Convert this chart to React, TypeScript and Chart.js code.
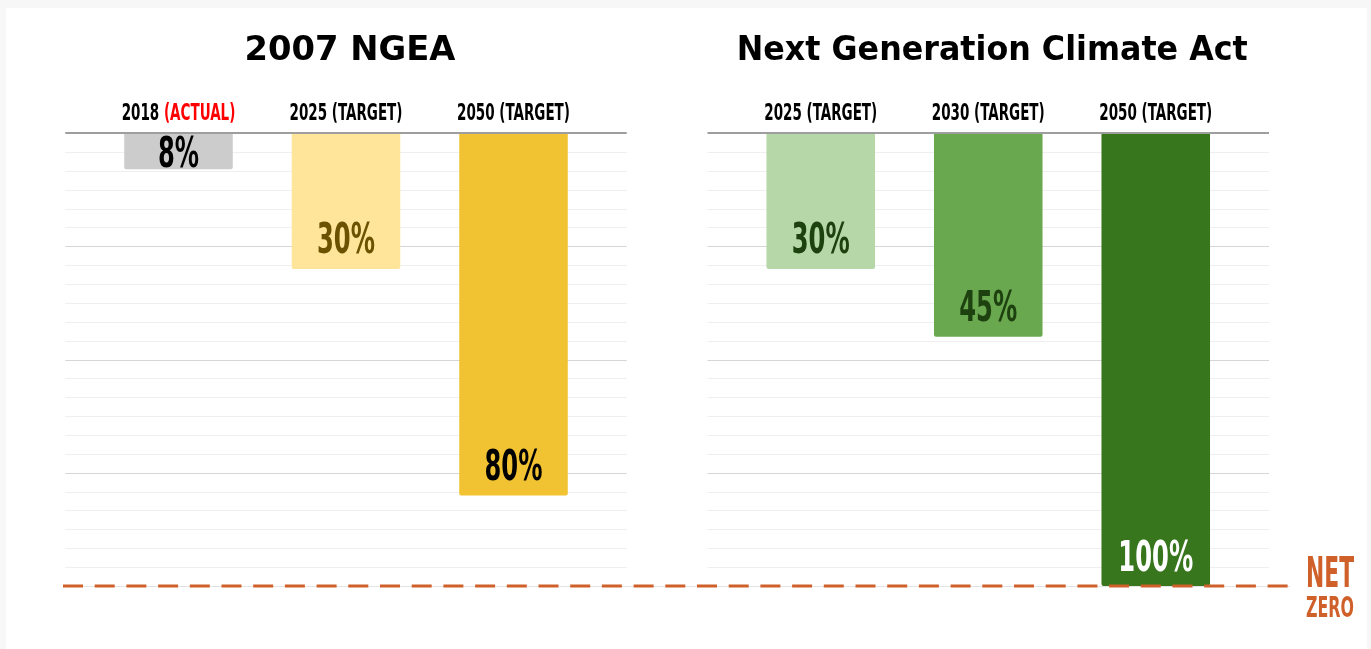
import React, { useEffect, useRef } from "react";
import { Chart, registerables } from "chart.js";

Chart.register(...registerables);

// ---------- data ----------
const leftTitle = "2007 NGEA";
const leftYears = ["2018", "2025", "2050"];
const leftTags = ["(ACTUAL)", "(TARGET)", "(TARGET)"];
const leftValues = [8, 30, 80];

const rightTitle = "Next Generation Climate Act";
const rightYears = ["2025", "2030", "2050"];
const rightTags = ["(TARGET)", "(TARGET)", "(TARGET)"];
const rightValues = [30, 45, 100];

const yMin = 0;
const yMax = 100;
const gridDivisions = 24;
const majorEvery = 6;
const netZeroValue = 100;
const netZeroLines = ["NET", "ZERO"];

// ---------- styles ----------
const leftBarColors = ["#cccccc", "#ffe599", "#f1c232"];
const leftLabelColors = ["#000000", "#6b5200", "#000000"];
const leftTagColors = ["#ff0000", "#000000", "#000000"];
const rightBarColors = ["#b6d7a8", "#6aa84f", "#38761d"];
const rightLabelColors = ["#1e4110", "#1e4110", "#ffffff"];
const rightTagColors = ["#000000", "#000000", "#000000"];
const ORANGE = "#d0602a";

const W = 1371;
const H = 649;
const COND = '"Liberation Sans Narrow", "DejaVu Sans Condensed", "Roboto Condensed", "Liberation Sans", sans-serif';
const TITLE_FONT = '"DejaVu Sans", "Open Sans", sans-serif';
const GRID_EXT = 29.5;

function squeezeFor(ctx: CanvasRenderingContext2D, font: string, sample: string, targetWidth: number) {
  ctx.save();
  ctx.font = font;
  const w = ctx.measureText(sample).width;
  ctx.restore();
  return Math.min(1, targetWidth / w);
}

function drawSqueezed(ctx: CanvasRenderingContext2D, text: string, x: number, y: number, sq: number, align: CanvasTextAlign) {
  ctx.save();
  ctx.translate(x, y);
  ctx.scale(sq, 1);
  ctx.textAlign = align;
  ctx.textBaseline = "alphabetic";
  ctx.fillText(text, 0, 0);
  ctx.restore();
}

type PanelCfg = {
  title: string;
  titleWidth: number;
  years: string[];
  tags: string[];
  tagColors: string[];
  labelColors: string[];
  netZero: boolean;
};

function makePlugin(cfg: PanelCfg) {
  return {
    id: "panelDecor",
    beforeDatasetsDraw(chart: any) {
      const { ctx, chartArea } = chart;
      const y = chart.scales.y;
      ctx.save();
      for (let i = 1; i <= gridDivisions; i++) {
        const v = yMin + ((yMax - yMin) * i) / gridDivisions;
        const py = Math.round(y.getPixelForValue(v)) + 0.5;
        ctx.strokeStyle = i % majorEvery === 0 ? "#d6d6d6" : "#efefef";
        ctx.lineWidth = 1;
        ctx.beginPath();
        ctx.moveTo(chartArea.left - GRID_EXT, py);
        ctx.lineTo(chartArea.right + GRID_EXT, py);
        ctx.stroke();
      }
      ctx.restore();
    },
    afterDatasetsDraw(chart: any) {
      const { ctx, chartArea } = chart;
      const x = chart.scales.x;
      const y = chart.scales.y;
      const data = chart.data.datasets[0].data as number[];
      ctx.save();

      // top axis line
      const y0 = y.getPixelForValue(yMin);
      ctx.strokeStyle = "#9e9e9e";
      ctx.lineWidth = 2;
      ctx.beginPath();
      ctx.moveTo(chartArea.left - GRID_EXT, y0);
      ctx.lineTo(chartArea.right + GRID_EXT, y0);
      ctx.stroke();

      // value labels
      const cap = 31;
      const vFont = `bold ${Math.round(cap / 0.72)}px ${COND}`;
      const vSq = squeezeFor(ctx, vFont, "30%", 58);
      ctx.font = vFont;
      data.forEach((v, i) => {
        const cx = x.getPixelForValue(i);
        const end = y.getPixelForValue(v);
        const start = y.getPixelForValue(0);
        const cy = Math.max(end - 31, (start + end) / 2);
        ctx.fillStyle = cfg.labelColors[i];
        drawSqueezed(ctx, `${v}%`, cx, cy + cap / 2, vSq, "center");
      });

      // category labels
      const cCap = 16.5;
      const cFont = `bold ${Math.round(cCap / 0.72)}px ${COND}`;
      const cSq = squeezeFor(ctx, cFont, "2025 (TARGET)", 113);
      ctx.font = cFont;
      const baseY = y0 - 13.5;
      cfg.years.forEach((yr, i) => {
        const cx = x.getPixelForValue(i);
        const p1 = yr + " ";
        const p2 = cfg.tags[i];
        const w1 = ctx.measureText(p1).width * cSq;
        const w2 = ctx.measureText(p2).width * cSq;
        const sx = cx - (w1 + w2) / 2;
        ctx.fillStyle = "#000000";
        drawSqueezed(ctx, p1, sx, baseY, cSq, "left");
        ctx.fillStyle = cfg.tagColors[i];
        drawSqueezed(ctx, p2, sx + w1, baseY, cSq, "left");
      });

      // title
      const tFont = `bold 34px ${TITLE_FONT}`;
      const tSq = squeezeFor(ctx, tFont, cfg.title, cfg.titleWidth);
      ctx.font = tFont;
      ctx.fillStyle = "#000000";
      drawSqueezed(ctx, cfg.title, (chartArea.left + chartArea.right) / 2 + 4, y0 - 73, tSq, "center");

      ctx.restore();
    },
    afterDraw(chart: any) {
      if (!cfg.netZero) return;
      const { ctx } = chart;
      const y = chart.scales.y;
      const py = y.getPixelForValue(netZeroValue);
      ctx.save();
      ctx.strokeStyle = "#e3e3e3";
      ctx.lineWidth = 1;
      ctx.beginPath();
      ctx.moveTo(63, Math.round(py) + 0.5);
      ctx.lineTo(1290, Math.round(py) + 0.5);
      ctx.stroke();
      ctx.strokeStyle = ORANGE;
      ctx.lineWidth = 3;
      ctx.setLineDash([20, 11.7]);
      ctx.beginPath();
      ctx.moveTo(63, py);
      ctx.lineTo(1290, py);
      ctx.stroke();
      ctx.setLineDash([]);

      ctx.fillStyle = ORANGE;
      const nCap = 30;
      const nFont = `bold ${Math.round(nCap / 0.72)}px ${COND}`;
      const nSq = squeezeFor(ctx, nFont, netZeroLines[0], 48);
      ctx.font = nFont;
      drawSqueezed(ctx, netZeroLines[0], 1306, py + 1, nSq, "left");
      const zCap = 21;
      const zFont = `bold ${Math.round(zCap / 0.72)}px ${COND}`;
      const zSq = squeezeFor(ctx, zFont, netZeroLines[1], 48);
      ctx.font = zFont;
      drawSqueezed(ctx, netZeroLines[1], 1306, py + 31, zSq, "left");
      ctx.restore();
    },
  };
}

function buildChart(canvas: HTMLCanvasElement, years: string[], values: number[], colors: string[], padding: any, cfg: PanelCfg) {
  return new Chart(canvas, {
    type: "bar",
    data: {
      labels: years,
      datasets: [
        {
          data: values,
          backgroundColor: colors,
          borderWidth: 0,
          borderRadius: 2,
          borderSkipped: "start",
          barPercentage: 0.648,
          categoryPercentage: 1,
        },
      ],
    },
    options: {
      responsive: false,
      animation: false,
      events: [],
      layout: { padding },
      scales: {
        x: { display: false, grid: { display: false } },
        y: { display: false, reverse: true, min: yMin, max: yMax },
      },
      plugins: {
        legend: { display: false },
        tooltip: { enabled: false },
        title: { display: false },
      },
    },
    plugins: [makePlugin(cfg)],
  } as any);
}

export default function App() {
  const leftRef = useRef<HTMLCanvasElement>(null);
  const rightRef = useRef<HTMLCanvasElement>(null);

  useEffect(() => {
    const top = 133;
    const bottom = H - 586;
    const left = buildChart(
      leftRef.current!,
      leftYears,
      leftValues,
      leftBarColors,
      { left: 94.75, right: W - 597.25, top, bottom },
      { title: leftTitle, titleWidth: 211, years: leftYears, tags: leftTags, tagColors: leftTagColors, labelColors: leftLabelColors, netZero: false }
    );
    const right = buildChart(
      rightRef.current!,
      rightYears,
      rightValues,
      rightBarColors,
      { left: 737, right: W - 1239.5, top, bottom },
      { title: rightTitle, titleWidth: 511, years: rightYears, tags: rightTags, tagColors: rightTagColors, labelColors: rightLabelColors, netZero: true }
    );
    return () => {
      left.destroy();
      right.destroy();
    };
  }, []);

  const canvasStyle: React.CSSProperties = { position: "absolute", left: 0, top: 0, width: W, height: H };
  return (
    <div style={{ position: "fixed", left: 0, top: 0, width: W, height: H, background: "#f7f7f7", overflow: "hidden" }}>
      <div style={{ position: "absolute", left: 6, top: 8, width: 1361, height: H - 8, background: "#ffffff" }} />
      <canvas ref={leftRef} width={W} height={H} style={canvasStyle} />
      <canvas ref={rightRef} width={W} height={H} style={canvasStyle} />
    </div>
  );
}
